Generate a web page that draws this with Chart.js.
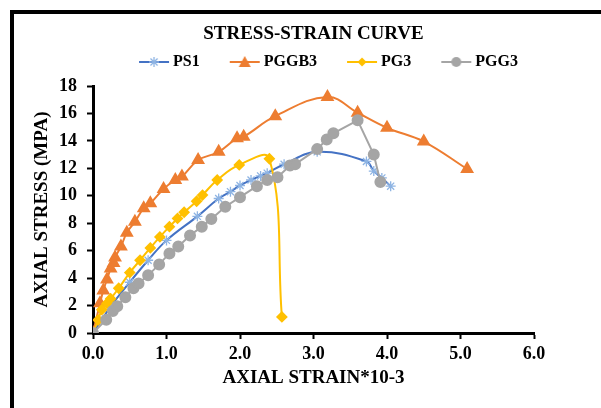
<!DOCTYPE html>
<html>
<head>
<meta charset="utf-8">
<title>Stress-Strain Curve</title>
<script src="https://cdn.jsdelivr.net/npm/chart.js@4.4.0/dist/chart.umd.min.js"></script>
<style>
    body { margin: 0; background: #fff; }
    #wrap { position: relative; width: 601px; height: 408px; }
    #frame {
        position: absolute; left: 10px; top: 10px; right: 0; bottom: 0;
        border-left: 4px solid #000; border-top: 4px solid #000;
        pointer-events: none;
    }
</style>
</head>
<body>
<div id="wrap">
    <canvas id="stressChart" width="601" height="408"></canvas>
    <div id="frame"></div>
</div>
<script>
// data (strain *10-3, stress MPa)
const ps1Strain = [0, 0.25, 0.5, 0.75, 1.0, 1.42, 1.71, 1.87, 2.0, 2.15, 2.28, 2.37, 2.6, 3.05, 3.72, 3.82, 3.93, 4.05];
const ps1Stress = [0, 2.0, 3.7, 5.3, 6.75, 8.5, 9.8, 10.3, 10.75, 11.15, 11.45, 11.65, 12.3, 13.2, 12.5, 11.8, 11.3, 10.7];

const pggb3Strain = [0, 0.095, 0.14, 0.19, 0.24, 0.28, 0.30, 0.38, 0.46, 0.57, 0.69, 0.78, 0.96, 1.12, 1.21, 1.43, 1.71, 1.96, 2.05, 2.48, 3.19, 3.6, 4.0, 4.5, 5.09];
const pggb3Stress = [0, 2.16, 3.1, 3.9, 4.7, 5.1, 5.5, 6.3, 7.3, 8.1, 9.1, 9.45, 10.5, 11.15, 11.4, 12.6, 13.2, 14.2, 14.3, 15.8, 17.2, 16.05, 14.95, 13.95, 11.95];

const pg3Strain = [0, 0.07, 0.12, 0.19, 0.24, 0.35, 0.50, 0.64, 0.78, 0.91, 1.04, 1.15, 1.24, 1.41, 1.49, 1.69, 1.99, 2.40, 2.57];
const pg3Stress = [0, 0.95, 1.7, 2.16, 2.5, 3.26, 4.4, 5.3, 6.2, 7.0, 7.75, 8.35, 8.8, 9.6, 10.05, 11.15, 12.25, 12.7, 1.17];

const pgg3Strain = [0, 0.18, 0.27, 0.33, 0.44, 0.55, 0.62, 0.75, 0.9, 1.04, 1.16, 1.32, 1.48, 1.61, 1.80, 2.0, 2.23, 2.37, 2.51, 2.68, 2.75, 3.05, 3.18, 3.27, 3.6, 3.82, 3.91];
const pgg3Stress = [0, 0.97, 1.6, 1.95, 2.6, 3.26, 3.6, 4.2, 5.0, 5.8, 6.3, 7.1, 7.75, 8.3, 9.2, 9.9, 10.7, 11.15, 11.35, 12.2, 12.3, 13.4, 14.1, 14.55, 15.5, 13.0, 11.0];

const seriesNames = ['PS1', 'PGGB3', 'PG3', 'PGG3'];
const FONT = "'Liberation Serif', 'Times New Roman', serif";

function toPoints(xs, ys) {
    return xs.map((x, i) => ({ x: x, y: ys[i] }));
}

// legend symbol: short line with the marker in the middle
function makeLegendIcon(lineColor, markColor, kind) {
    const c = document.createElement('canvas');
    c.width = 58;
    c.height = 16;
    const g = c.getContext('2d');
    g.strokeStyle = lineColor;
    g.lineWidth = 2;
    g.beginPath();
    g.moveTo(26, 8);
    g.lineTo(56, 8);
    g.stroke();
    const cx = 41, cy = 8;
    g.fillStyle = markColor;
    g.strokeStyle = markColor;
    if (kind === 'star') {
        g.lineWidth = 1.3;
        g.beginPath();
        for (let a = 0; a < 4; a++) {
            const ang = a * Math.PI / 4;
            g.moveTo(cx - 5 * Math.cos(ang), cy - 5 * Math.sin(ang));
            g.lineTo(cx + 5 * Math.cos(ang), cy + 5 * Math.sin(ang));
        }
        g.stroke();
    } else if (kind === 'triangle') {
        g.beginPath();
        g.moveTo(cx, cy - 6);
        g.lineTo(cx + 6, cy + 5);
        g.lineTo(cx - 6, cy + 5);
        g.closePath();
        g.fill();
    } else if (kind === 'diamond') {
        g.beginPath();
        g.moveTo(cx, cy - 4.5);
        g.lineTo(cx + 4.5, cy);
        g.lineTo(cx, cy + 4.5);
        g.lineTo(cx - 4.5, cy);
        g.closePath();
        g.fill();
    } else {
        g.beginPath();
        g.arc(cx, cy, 5, 0, Math.PI * 2);
        g.fill();
    }
    return c;
}

const legendIcons = [
    makeLegendIcon('#4472C4', '#8EB4E3', 'star'),
    makeLegendIcon('#ED7D31', '#ED7D31', 'triangle'),
    makeLegendIcon('#FFC000', '#FFC000', 'diamond'),
    makeLegendIcon('#A5A5A5', '#A5A5A5', 'circle')
];

// nudge the legend row to where it sits in the picture
const legendShift = {
    id: 'legendShift',
    afterLayout(chart) {
        const lg = chart.legend;
        if (!lg) return;
        lg.left += 5;
        lg.right += 5;
        lg.top -= 6;
        lg.bottom -= 6;
    }
};

const ctx = document.getElementById('stressChart');
new Chart(ctx, {
    type: 'scatter',
    data: {
        datasets: [
            {
                label: seriesNames[0],
                data: toPoints(ps1Strain, ps1Stress),
                showLine: true,
                borderColor: '#4472C4',
                borderWidth: 2,
                tension: 0.4,
                pointStyle: 'star',
                pointRadius: 5,
                pointBorderColor: '#8EB4E3',
                pointBackgroundColor: '#8EB4E3',
                pointBorderWidth: 1.3,
                order: 4
            },
            {
                label: seriesNames[1],
                data: toPoints(pggb3Strain, pggb3Stress),
                showLine: true,
                borderColor: '#ED7D31',
                borderWidth: 2,
                tension: 0.4,
                pointStyle: 'triangle',
                pointRadius: 6,
                pointBorderColor: '#ED7D31',
                pointBackgroundColor: '#ED7D31',
                order: 3
            },
            {
                label: seriesNames[2],
                data: toPoints(pg3Strain, pg3Stress),
                showLine: true,
                borderColor: '#FFC000',
                borderWidth: 2,
                tension: 0.4,
                pointStyle: 'rectRot',
                pointRadius: 4.5,
                pointBorderColor: '#FFC000',
                pointBackgroundColor: '#FFC000',
                order: 2
            },
            {
                label: seriesNames[3],
                data: toPoints(pgg3Strain, pgg3Stress),
                showLine: true,
                borderColor: '#A5A5A5',
                borderWidth: 2,
                tension: 0,
                pointStyle: 'circle',
                pointRadius: 5,
                pointBorderColor: '#A5A5A5',
                pointBackgroundColor: '#A5A5A5',
                order: 1
            }
        ]
    },
    options: {
        responsive: false,
        animation: false,
        layout: {
            padding: { left: 14, right: 67, top: 14, bottom: 0 }
        },
        plugins: {
            tooltip: { enabled: false },
            title: {
                display: true,
                text: 'STRESS-STRAIN CURVE',
                color: '#000',
                fullSize: false,
                font: { family: FONT, size: 19, weight: 'bold', lineHeight: 1.0 },
                padding: { top: 11, bottom: 6 }
            },
            legend: {
                display: true,
                position: 'top',
                fullSize: false,
                labels: {
                    color: '#000',
                    font: { family: FONT, size: 16, weight: 'bold' },
                    usePointStyle: true,
                    pointStyleWidth: 46,
                    padding: 10,
                    generateLabels: (chart) => {
                        const items = Chart.defaults.plugins.legend.labels.generateLabels(chart);
                        items.forEach(item => {
                            item.pointStyle = legendIcons[item.datasetIndex];
                        });
                        return items.sort((a, b) => a.datasetIndex - b.datasetIndex);
                    }
                }
            }
        },
        scales: {
            x: {
                type: 'linear',
                min: 0,
                max: 6,
                afterFit: (scale) => { scale.height = 75; },
                ticks: {
                    stepSize: 1,
                    color: '#000',
                    padding: 5,
                    font: { family: FONT, size: 18, weight: 'bold' },
                    callback: (v) => v.toFixed(1)
                },
                grid: {
                    drawOnChartArea: false,
                    drawTicks: true,
                    tickLength: 6,
                    tickColor: '#000',
                    tickWidth: 2
                },
                border: { color: '#000', width: 3 },
                title: {
                    display: true,
                    text: 'AXIAL STRAIN*10-3',
                    color: '#000',
                    font: { family: FONT, size: 19, weight: 'bold' },
                    padding: { top: 0, bottom: 18.6 }
                }
            },
            y: {
                type: 'linear',
                min: 0,
                max: 18,
                afterFit: (scale) => { scale.width = 79; },
                ticks: {
                    stepSize: 2,
                    color: '#000',
                    padding: 10,
                    font: { family: FONT, size: 18, weight: 'bold' }
                },
                grid: {
                    drawOnChartArea: false,
                    drawTicks: true,
                    tickLength: 6,
                    tickColor: '#000',
                    tickWidth: 2
                },
                border: { color: '#000', width: 3 },
                title: {
                    display: true,
                    text: 'AXIAL STRESS (MPA)',
                    color: '#000',
                    font: { family: FONT, size: 19, weight: 'bold' },
                    padding: { top: 16.6, bottom: 0 }
                }
            }
        }
    },
    plugins: [legendShift]
});
</script>
</body>
</html>
